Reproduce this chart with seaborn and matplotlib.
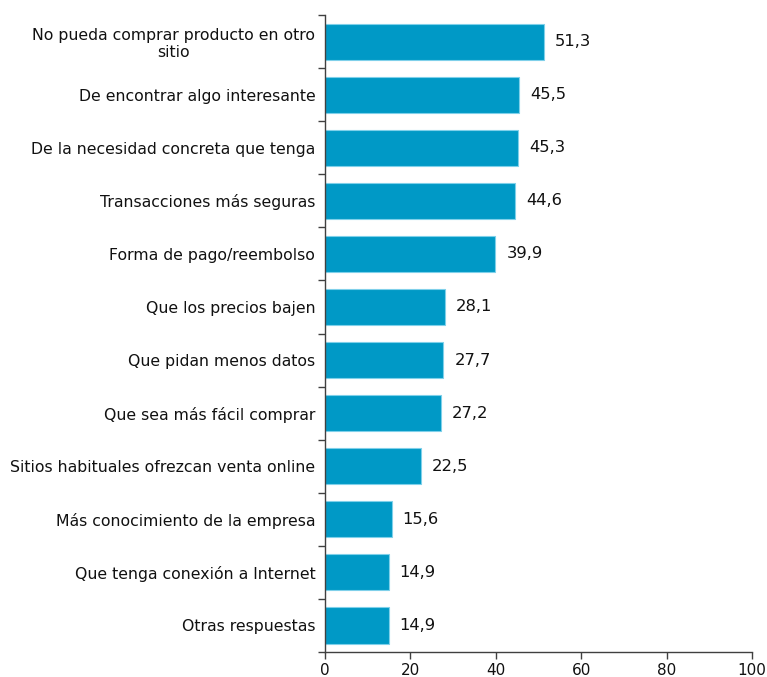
import numpy as np
import pandas as pd
import matplotlib
matplotlib.use("Agg")
import matplotlib.pyplot as plt
import seaborn as sns

categorias = [
    "No pueda comprar producto en otro\nsitio",
    "De encontrar algo interesante",
    "De la necesidad concreta que tenga",
    "Transacciones más seguras",
    "Forma de pago/reembolso",
    "Que los precios bajen",
    "Que pidan menos datos",
    "Que sea más fácil comprar",
    "Sitios habituales ofrezcan venta online",
    "Más conocimiento de la empresa",
    "Que tenga conexión a Internet",
    "Otras respuestas",
]
valores = [51.3, 45.5, 45.3, 44.6, 39.9, 28.1, 27.7, 27.2, 22.5, 15.6, 14.9, 14.9]
xticks = [0, 20, 40, 60, 80, 100]

df = pd.DataFrame({"cat": categorias, "val": valores})

sns.set_style("white")
plt.rcParams["font.family"] = ["DejaVu Sans"]

fig = plt.figure(figsize=(7.67, 6.77), dpi=100)
ax = fig.add_axes([0.4237, 0.0369, 0.5567, 0.9409])

sns.barplot(data=df, x="val", y="cat", color="#0099c6", saturation=1,
            width=0.68, edgecolor="#7fd0ea", linewidth=0.8, ax=ax)

labels = [f"{v:.1f}".replace(".", ",") for v in valores]
ax.bar_label(ax.containers[0], labels=labels, padding=8, fontsize=11.8, color="#111111")

ax.set_xlim(0, 100)
ax.set_ylim(len(categorias) - 0.5, -0.5)
ax.set_xticks(xticks)
ax.set_xticklabels([str(t) for t in xticks], fontsize=11, color="#111111")
ax.set_xlabel("")
ax.set_ylabel("")

# y ticks: labels at centres, tick marks at boundaries
ax.set_yticks(range(len(categorias)))
ax.set_yticklabels(categorias, fontsize=11.3, color="#111111")
for lbl in ax.get_yticklabels():
    lbl.set_multialignment("center")
ax.tick_params(axis="y", which="major", left=True, length=0, pad=7)
ax.set_yticks(np.arange(-0.5, len(categorias) + 0.5, 1), minor=True)
ax.tick_params(axis="y", which="minor", left=True, length=5, width=1,
               color="#404040", direction="out")
ax.tick_params(axis="x", which="major", bottom=True, length=5, width=1,
               color="#404040", direction="out", pad=3)

for s in ["top", "right"]:
    ax.spines[s].set_visible(False)
for s in ["left", "bottom"]:
    ax.spines[s].set_color("#404040")
    ax.spines[s].set_linewidth(1)

fig.savefig("out.png", dpi=100)
